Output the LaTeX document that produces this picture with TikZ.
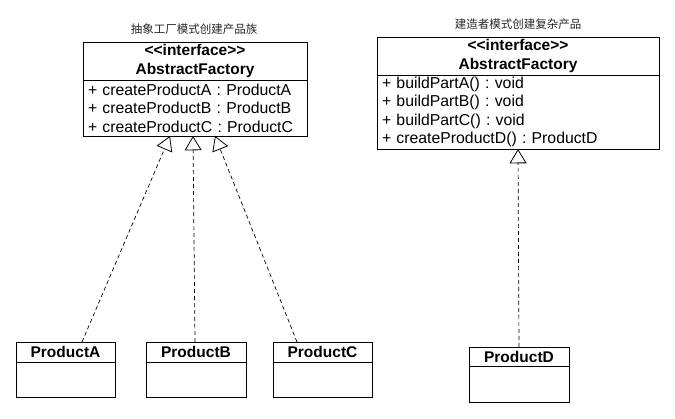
\documentclass[tikz,border=0pt]{standalone}
\usepackage{fontspec}
\setmainfont{Liberation Sans}
\newfontfamily\cjk{Noto Sans CJK SC}
\usetikzlibrary{arrows.meta, positioning, shadows}
\frenchspacing

\tikzset{
  umlshadow/.style={drop shadow={shadow xshift=1pt, shadow yshift=-1.5pt, opacity=0.35, fill=black!60}},
  umlhead/.style={draw, fill=white, umlshadow, inner sep=0pt, outer sep=0pt, line width=0.8pt,
    align=center, font=\bfseries\fontsize{15.5}{18.5}\selectfont},
  umlbody/.style={draw, fill=white, umlshadow, inner xsep=5pt, inner ysep=0pt, outer sep=0pt, line width=0.8pt,
    align=left, font=\fontsize{15.8}{18.5}\selectfont},
  realize/.style={dash pattern=on 4pt off 3pt, line width=0.7pt, -{Triangle[open, length=11pt, width=13pt, line width=0.8pt, scale=1.3]}},
  caption/.style={font=\cjk\fontsize{11.5}{13}\selectfont, black!85}
}

\begin{document}
\begin{tikzpicture}[x=1pt, y=-1pt]
\useasboundingbox (0,0) rectangle (675,419);

\node[caption] (capL) at (194, 29) {抽象工厂模式创建产品族};
\node[caption] (capR) at (518, 24) {建造者模式创建复杂产品};

\node[umlhead, anchor=north west, minimum width=224pt, minimum height=38pt] (absL) at (83, 42) {<{}<interface>{}>\\AbstractFactory};
\node[umlbody, below=0pt of absL, minimum width=224pt, minimum height=56pt, text width=214pt] (absLops)
  {+ createProductA : ProductA\\+ createProductB : ProductB\\+ createProductC : ProductC};

\node[umlhead, anchor=north west, minimum width=282pt, minimum height=38pt] (absR) at (377, 37) {<{}<interface>{}>\\AbstractFactory};
\node[umlbody, below=0pt of absR, minimum width=282pt, minimum height=74pt, text width=272pt] (absRops)
  {+ buildPartA() : void\\+ buildPartB() : void\\+ buildPartC() : void\\+ createProductD() : ProductD};

\node[umlhead, anchor=north west, minimum width=99pt, minimum height=20pt] (prodA) at (16, 342) {ProductA};
\node[umlbody, below=0pt of prodA, minimum width=99pt, minimum height=35pt] (prodAbody) {};
\node[umlhead, anchor=north west, minimum width=100pt, minimum height=20pt] (prodB) at (146, 342) {ProductB};
\node[umlbody, below=0pt of prodB, minimum width=100pt, minimum height=35pt] (prodBbody) {};
\node[umlhead, anchor=north west, minimum width=99pt, minimum height=20pt] (prodC) at (273, 342) {ProductC};
\node[umlbody, below=0pt of prodC, minimum width=99pt, minimum height=35pt] (prodCbody) {};
\node[umlhead, anchor=north west, minimum width=100pt, minimum height=19pt] (prodD) at (469, 347) {ProductD};
\node[umlbody, below=0pt of prodD, minimum width=100pt, minimum height=36pt] (prodDbody) {};

\draw[realize] ([xshift=16.5pt]prodA.north) -- ([xshift=-25pt]absLops.south);
\draw[realize] ([xshift=-1pt]prodB.north) -- ([xshift=-2pt]absLops.south);
\draw[realize] ([xshift=-25.5pt]prodC.north) -- ([xshift=20pt]absLops.south);
\draw[realize] (prodD.north) -- (absRops.south);

\end{tikzpicture}
\end{document}
